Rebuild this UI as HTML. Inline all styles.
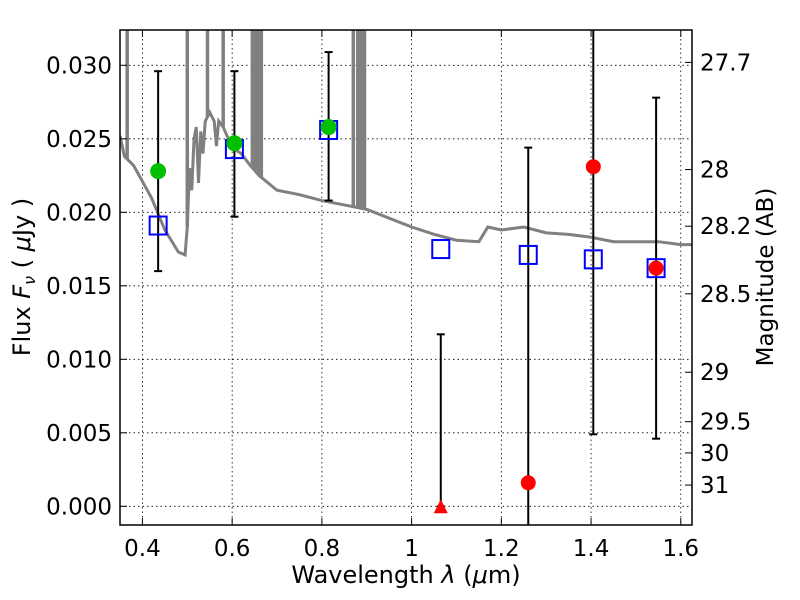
<!DOCTYPE html>
<html><head><meta charset="utf-8"><style>
body{margin:0;background:#fff;}
svg{display:block;font-family:"DejaVu Sans","Liberation Sans",sans-serif;}
</style></head><body>
<svg id="chart" width="800" height="600"></svg>
<script>
const xTicks=[0.4,0.6,0.8,1.0,1.2,1.4,1.6];
const xTickLabels=["0.4","0.6","0.8","1","1.2","1.4","1.6"];
const yTicks=[0,0.005,0.010,0.015,0.020,0.025,0.030];
const yTickLabels=["0.000","0.005","0.010","0.015","0.020","0.025","0.030"];
const magTicks=[27.7,28,28.2,28.5,29,29.5,30,31];
const specX=[0.35,0.36,0.38,0.42,0.45,0.48,0.495,0.50,0.505,0.51,0.515,0.52,0.525,0.53,0.535,0.54,0.55,0.56,0.565,0.57,0.58,0.60,0.62,0.64,0.66,0.70,0.75,0.80,0.85,0.90,0.95,1.0,1.05,1.10,1.15,1.17,1.20,1.25,1.30,1.35,1.40,1.45,1.50,1.55,1.60,1.625];
const specY=[0.0252,0.0238,0.0232,0.0210,0.0188,0.0173,0.0171,0.0190,0.0230,0.0215,0.0250,0.0258,0.0220,0.0255,0.0240,0.0262,0.0268,0.0262,0.0245,0.0262,0.0258,0.0244,0.0240,0.0232,0.0225,0.0215,0.0212,0.0208,0.0205,0.0202,0.0196,0.0190,0.0185,0.0181,0.0180,0.0190,0.0188,0.0190,0.0186,0.0185,0.0183,0.0180,0.0180,0.0180,0.0178,0.0178];
const spikeX=[0.366,0.50,0.545,0.58,0.645,0.65,0.655,0.66,0.665,0.87,0.88,0.885,0.89,0.895];
const greenX=[0.435,0.605,0.815];
const greenY=[0.0228,0.0247,0.0258];
const redX=[1.26,1.405,1.545];
const redY=[0.0016,0.0231,0.0162];
const triX=[1.065];
const triY=[0.0];
const boxX=[0.435,0.605,0.815,1.065,1.26,1.405,1.545];
const boxY=[0.0191,0.0243,0.0256,0.0175,0.0171,0.0168,0.0162];
const errX=[0.435,0.605,0.815,1.065,1.26,1.405,1.545];
const errLo=[0.0160,0.0197,0.0208,0.0,-0.005,0.0049,0.0046];
const errHi=[0.0296,0.0296,0.0309,0.0117,0.0244,0.040,0.0278];

const L=120,R=692,T=30,B=525,X0=0.35,X1=1.625;
const Y0=0.030,Y0p=65.3,Ypx=73.5/0.005;
const sx=v=>L+(v-X0)*(R-L)/(X1-X0);
const sy=v=>Y0p+(Y0-v)*Ypx;
const svg=document.getElementById('chart');
const NS='http://www.w3.org/2000/svg';
function mk(tag,at,parent){const e=document.createElementNS(NS,tag);for(const k in at)e.setAttribute(k,at[k]);(parent||svg).appendChild(e);return e;}
const clip=mk('clipPath',{id:'pc'});mk('rect',{x:L,y:T,width:R-L,height:B-T},clip);
const g=mk('g',{'clip-path':'url(#pc)'});
xTicks.forEach(v=>{const l=mk('line',{x1:sx(v),x2:sx(v),y1:T,y2:B,stroke:'#000','stroke-width':0.8,'stroke-dasharray':'1.5,3'},g);

});
yTicks.forEach(v=>{const l=mk('line',{x1:L,x2:R,y1:sy(v),y2:sy(v),stroke:'#000','stroke-width':0.8,'stroke-dasharray':'1.5,3'},g);

});
let d=specX.map((x,i)=>(i?'L':'M')+sx(x)+','+sy(specY[i])).join('');
const sp=mk('path',{d:d,fill:'none',stroke:'#808080','stroke-width':3},g);


function interp(x){for(let i=1;i<specX.length;i++){if(x<=specX[i]){const t=(x-specX[i-1])/(specX[i]-specX[i-1]);return specY[i-1]+t*(specY[i]-specY[i-1]);}}return specY[specY.length-1];}
spikeX.forEach(x=>{const l=mk('line',{x1:sx(x),x2:sx(x),y1:sy(interp(x)),y2:T,stroke:'#808080','stroke-width':3.5},g);

});
errX.forEach((x,i)=>{const e=mk('g',{},g);


const X=sx(x);mk('line',{x1:X,x2:X,y1:sy(errLo[i]),y2:sy(errHi[i]),stroke:'#000','stroke-width':2},e);
[errLo[i],errHi[i]].forEach(v=>mk('line',{x1:X-4,x2:X+4,y1:sy(v),y2:sy(v),stroke:'#000','stroke-width':2},e));});
boxX.forEach((x,i)=>{const r=mk('rect',{x:sx(x)-8.5,y:sy(boxY[i])-9,width:17,height:18,fill:'none',stroke:'#0000ff','stroke-width':2},g);

});
greenX.forEach((x,i)=>{const c=mk('circle',{cx:sx(x),cy:sy(greenY[i]),r:8,fill:'#00c000'},g);

});
redX.forEach((x,i)=>{const c=mk('circle',{cx:sx(x),cy:sy(redY[i]),r:7.5,fill:'#ff0000'},g);

});
triX.forEach((x,i)=>{const X=sx(x),Y=sy(triY[i]);const p=mk('polygon',{points:`${X-7},${Y+7} ${X+7},${Y+7} ${X},${Y-7}`,fill:'#ff0000'},g);

});
const fr=mk('rect',{x:L,y:T,width:R-L,height:B-T,fill:'none',stroke:'#000','stroke-width':1.5});


xTicks.forEach((v,i)=>{mk('line',{x1:sx(v),x2:sx(v),y1:B,y2:B-7,stroke:'#000'});mk('line',{x1:sx(v),x2:sx(v),y1:T,y2:T+7,stroke:'#000'});
const t=mk('text',{x:sx(v),y:B+31,'font-size':23,'text-anchor':'middle'});t.textContent=xTickLabels[i];

});
yTicks.forEach((v,i)=>{mk('line',{x1:L,x2:L+7,y1:sy(v),y2:sy(v),stroke:'#000'});
const t=mk('text',{x:L-8,y:sy(v)+8,'font-size':23,'text-anchor':'end'});t.textContent=yTickLabels[i];

});
magTicks.forEach(m=>{const f=Math.pow(10,(23.9-m)/2.5);const y=sy(f);mk('line',{x1:R,x2:R-7,y1:y,y2:y,stroke:'#000'});
const t=mk('text',{x:R+8,y:y+8,'font-size':23});t.textContent=String(m);

});
const xl=mk('text',{x:406,y:583,'font-size':24,'text-anchor':'middle'});xl.innerHTML='Wavelength  <tspan font-style="italic">λ</tspan> (<tspan font-style="italic">μ</tspan>m)';


const yl=mk('text',{x:30,y:277,'font-size':24,'text-anchor':'middle',transform:'rotate(-90 30 277)'});yl.innerHTML='Flux  <tspan font-style="italic">F</tspan><tspan font-style="italic" font-size="16" dy="5">ν</tspan><tspan dy="-5">  ( </tspan><tspan font-style="italic">μ</tspan>Jy )';


const rl=mk('text',{x:773,y:277,'font-size':23,'text-anchor':'middle',transform:'rotate(-90 773 277)'});rl.textContent='Magnitude (AB)';


</script>
</body></html>
